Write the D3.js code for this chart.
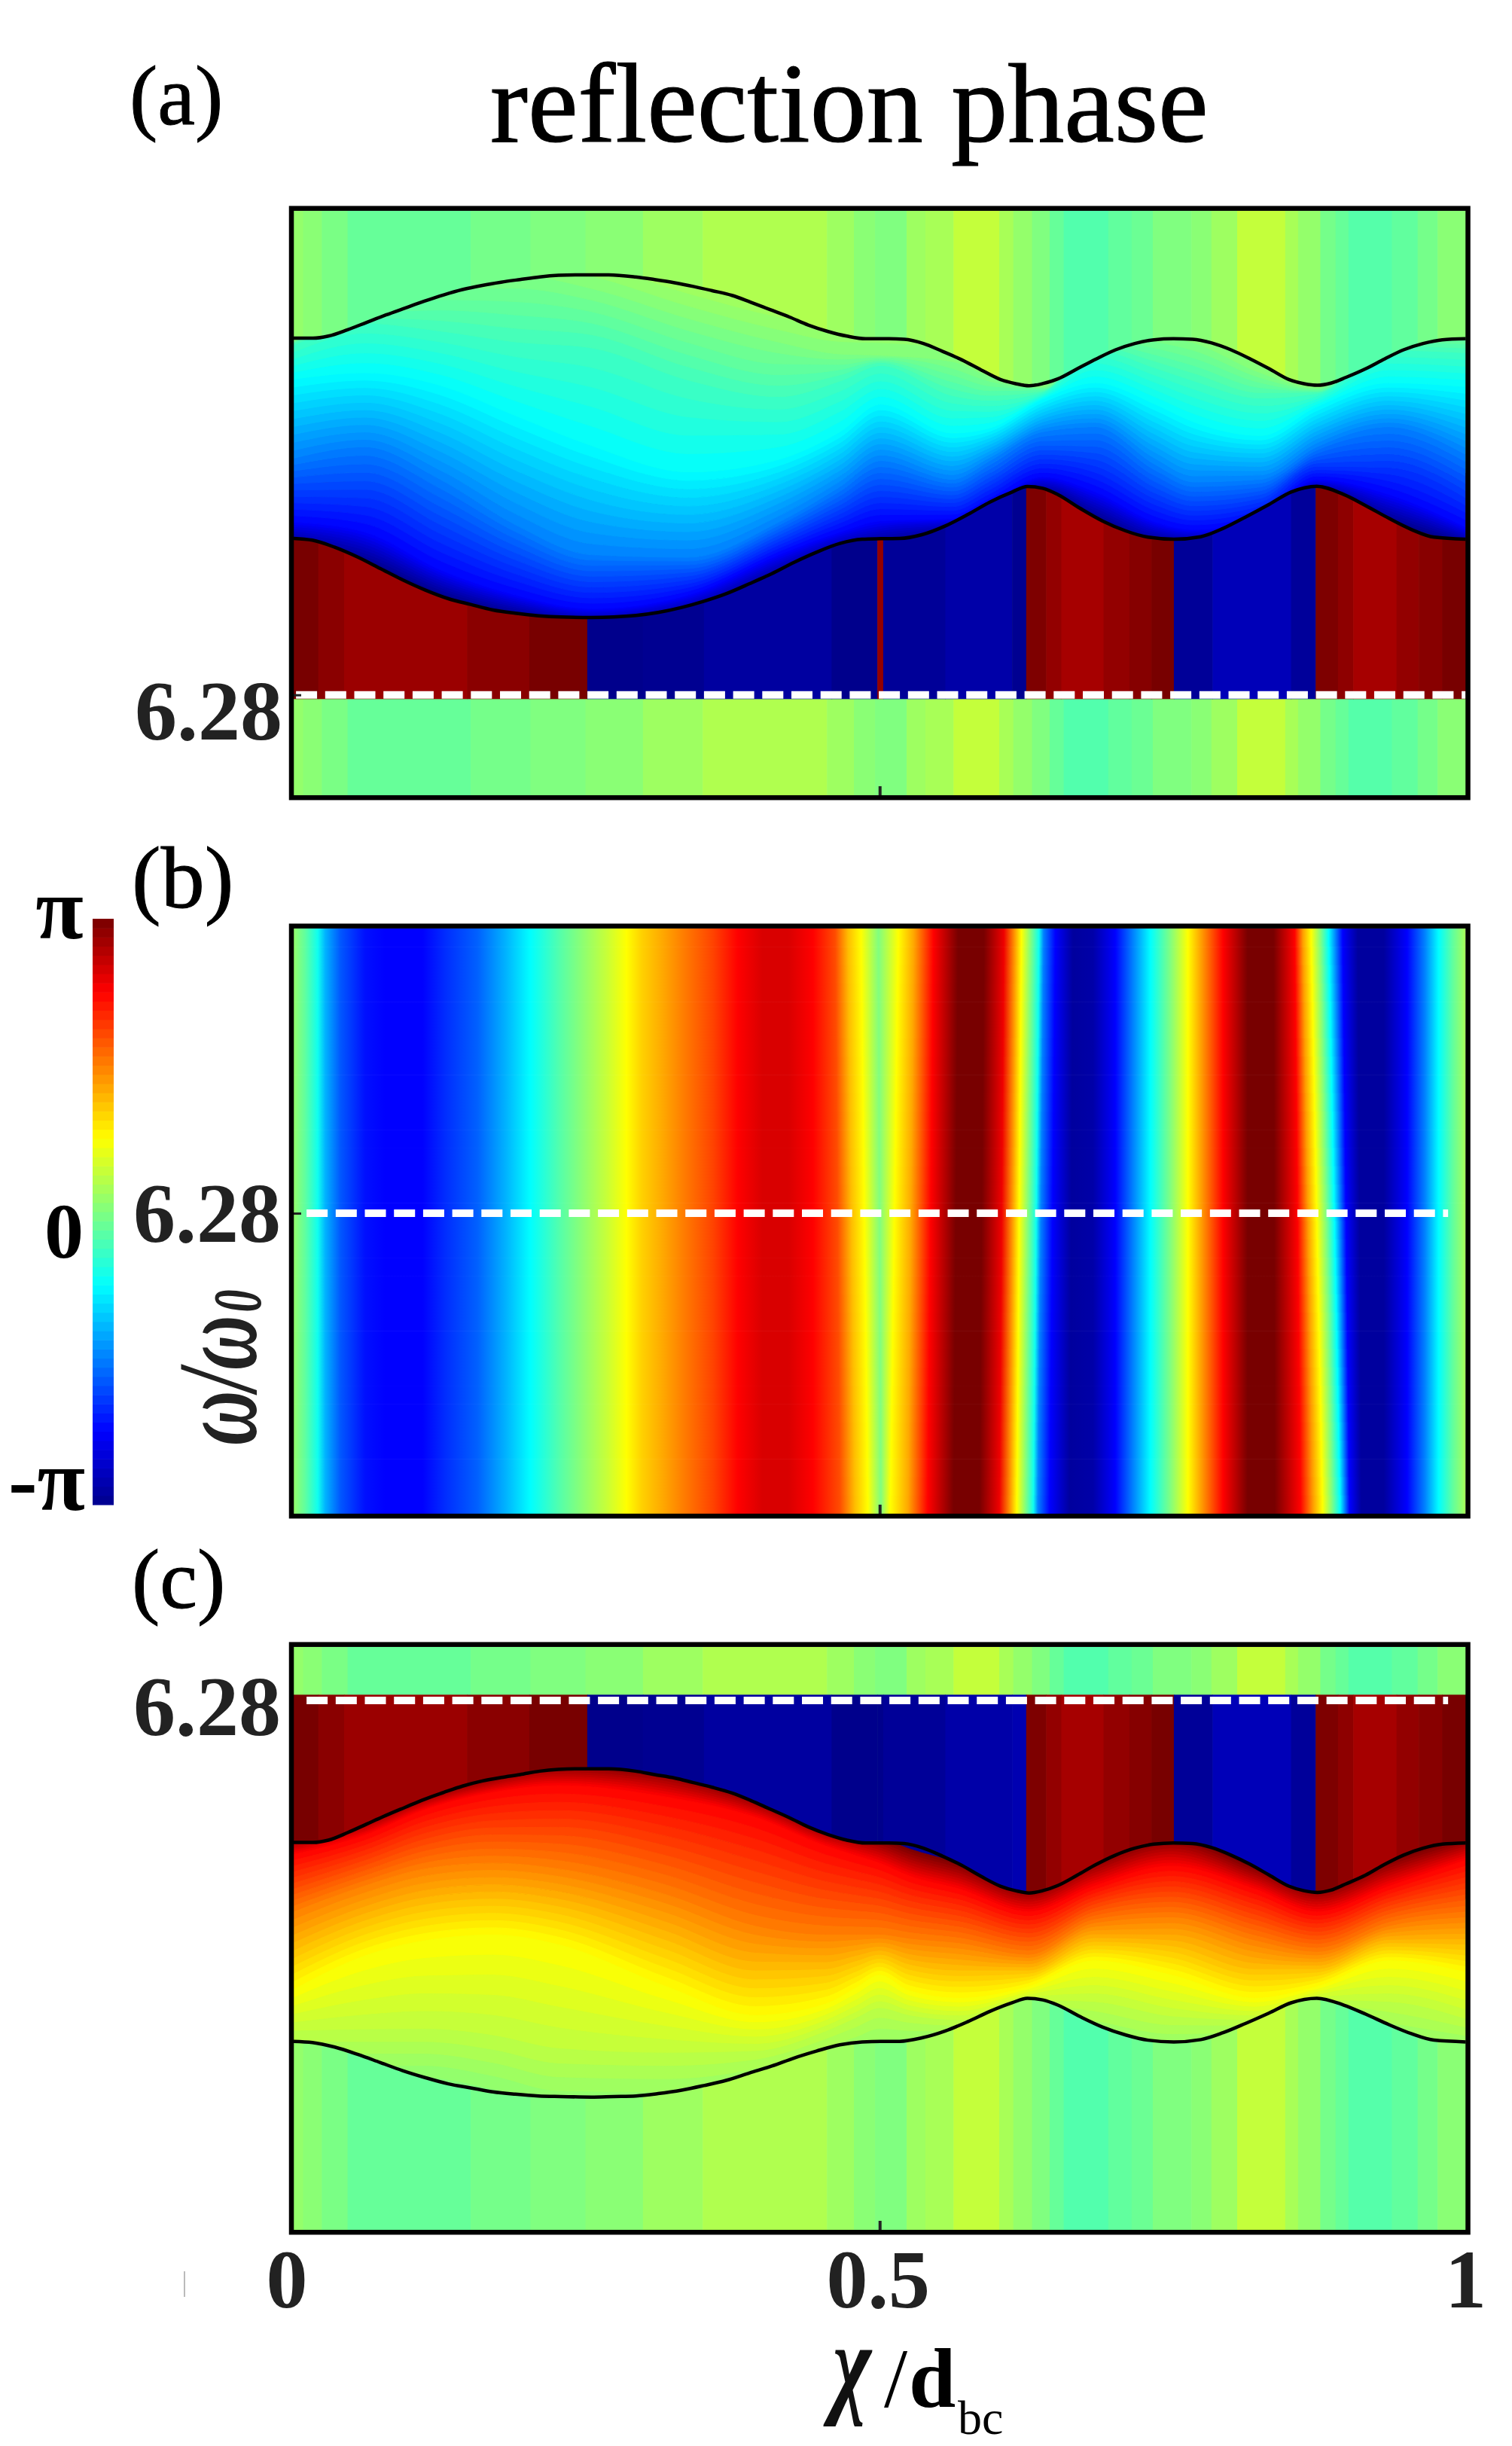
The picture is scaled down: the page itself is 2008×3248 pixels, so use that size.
<!DOCTYPE html>
<html><head><meta charset="utf-8">
<style>html,body{margin:0;padding:0;background:#fff}svg{display:block}
text{font-family:"Liberation Serif",serif;fill:#000}</style>
<script src="https://cdn.jsdelivr.net/npm/d3@7/dist/d3.min.js"></script>
</head><body><svg id="c" width="2008" height="3248"></svg>
<script>
// phase is stored as a colour-bar fraction: 0 = -pi, 0.5 = 0, 1 = pi
const jetStops=[0,.125,.375,.625,.875,1];
const jetColors=["#00008c","#0000ff","#00ffff","#ffff00","#ff0000","#780000"];
const xTicks=[0,0.5,1];
const xTickLabels=["0","0.5","1"];
const bandLabel="6.28";

// outer stripes
const bgEdges=[0,.008,.024,.046,.151,.202,.249,.298,.349,.455,.478,.496,.506,.523,.539,.563,.602,.614,.630,.645,.657,.695,.715,.733,.766,.783,.805,.846,.857,.876,.889,.900,.937,.959,.976,1];
const bgPhase=[.52,.51,.495,.475,.49,.50,.51,.53,.548,.53,.51,.50,.50,.53,.54,.567,.54,.52,.50,.475,.455,.47,.48,.50,.51,.53,.567,.54,.52,.49,.475,.458,.47,.49,.51];
// wrapped-phase stripes between band edge and the dashed line
const wrapEdges=[0,.021,.043,.148,.201,.2505,.298,.350,.459,.498,.503,.556,.613,.625,.642,.655,.691,.713,.732,.751,.784,.851,.872,.891,.904,.941,.960,.980,1];
const wrapPhaseA=[1,.983,.968,.983,1,0,.005,.022,0,.975,.013,.03,.005,.994,.975,.957,.975,.987,1,.013,.048,.015,.994,.98,.957,.975,.985,1];
const wrapPhaseC=[1,.983,.968,.983,1,0,.005,.022,0,0,.013,.03,.04,.994,.975,.957,.975,.987,1,.013,.048,.015,.994,.98,.957,.975,.985,1];

// band edges
const upperX=[0,.0165,.0296,.046,.0623,.0787,.095,.1115,.128,.144,.161,.177,.193,.21,.226,.2426,.2688,.2917,.308,.325,.341,.357,.374,.39,.4065,.423,.439,.4555,.472,.488,.5078,.5209,.5373,.5537,.5701,.5865,.6029,.616,.6275,.639,.652,.6685,.685,.7013,.7177,.734,.7505,.767,.7833,.7997,.816,.8325,.849,.862,.8735,.885,.898,.9145,.931,.947,.9637,.98,1];
const upperA=[675,675,679,691,705,719,732,745,757,767,775,781,786,791,794,795,795,791,786,780,773,765,756,743,729,715,700,688,679,674,674,673,665,650,634,615,597,589,585,589,598,617,636,653,665,672,674,673,666,653,636,617,597,589,586,590,601,617,636,653,665,672,674];
const upperC=[-247,-247,-243,-230,-215,-200,-186,-172,-160,-149,-140,-134,-129,-123,-120,-119,-119,-123,-129,-135,-143,-151,-161,-174,-189,-204,-220,-233,-243,-248,-248,-249,-257,-271,-287,-306,-323,-331,-335,-331,-322,-304,-285,-269,-257,-250,-248,-249,-256,-269,-285,-304,-323,-331,-334,-330,-319,-304,-285,-269,-257,-250,-248];
const lowerX=[0,.016,.035,.055,.074,.093,.112,.132,.151,.170,.189,.209,.228,.254,.273,.292,.311,.331,.350,.369,.389,.408,.427,.446,.466,.485,.501,.517,.536,.556,.575,.594,.613,.626,.639,.652,.671,.690,.710,.729,.751,.774,.793,.812,.832,.851,.873,.896,.915,.9345,.954,.973,1];
const lowerAY=[705,712,740,780,825,870,910,945,968,990,1003,1013,1018,1020,1018,1012,1000,980,955,925,885,845,800,760,725,708,706,705,690,655,610,560,520,498,505,530,585,635,675,700,708,698,665,620,570,520,497,530,575,625,670,700,708];
const lowerC=[-593,-595,-603,-616,-630,-644,-656,-667,-674,-681,-685,-688,-689,-690,-689,-688,-684,-678,-670,-661,-648,-636,-622,-610,-599,-594,-593,-593,-587,-575,-559,-541,-526,-518,-521,-530,-550,-568,-582,-591,-594,-590,-578,-562,-544,-526,-518,-530,-546,-564,-580,-591,-594];

// iso-phase lines inside the bands
const isoXA=[0,.061,.125,.189,.254,.337,.414,.466,.501,.562,.594,.639,.684,.735,.7675,.825,.873,.9345,1];
const isoPhaseA=[0,.125,.25,.375,.44,.5,.6];
const isoA=[
 [730,800,930,1010,1045,1000,855,755,732,665,575,525,625,720,725,625,520,635,730],
 [640,680,830,930,985,930,770,680,635,625,560,460,520,640,670,620,470,530,660],
 [385,340,470,650,770,780,640,500,395,470,395,280,260,410,480,470,340,260,370],
 [70,45,95,215,335,440,390,280,170,285,265,150,85,170,240,295,180,85,100],
 [-70,-160,-130,-90,-70,60,130,70,10,130,150,120,-50,20,70,140,125,-50,-40],
 [-85,-240,-330,-345,-291,-171,-77,-30,-25,0,60,100,-120,-105,-75,45,105,-120,-120],
 [-485,-640,-730,-745,-691,-571,-477,-430,-425,-400,-340,-300,-520,-505,-475,-355,-295,-520,-520]];
const isoXC=[0,.06,.112,.17,.226,.318,.394,.454,.48,.5,.525,.568,.627,.683,.749,.82,.873,.935,1];
const isoPhaseC=[.5,.56,.625,.75,.875,1];
const isoC=[
 [-678,-678,-678,-700,-728,-728,-688,-648,-638,-628,-618,-608,-568,-608,-628,-608,-568,-618,-628],
 [-578,-578,-578,-590,-613,-618,-613,-578,-555,-538,-550,-558,-523,-528,-553,-558,-523,-528,-558],
 [-503,-445,-418,-408,-425,-498,-548,-528,-500,-478,-505,-518,-498,-453,-478,-518,-498,-453,-473],
 [-368,-323,-293,-283,-293,-338,-393,-408,-408,-408,-415,-423,-443,-388,-378,-418,-438,-393,-378],
 [-268,-235,-190,-160,-148,-168,-203,-253,-270,-283,-305,-328,-368,-323,-288,-328,-368,-323,-278],
 [-233,-205,-163,-130,-110,-123,-168,-218,-228,-238,-258,-283,-325,-278,-238,-288,-325,-278,-238]];

// panel (b): phase profile, with stop positions at top and bottom of the panel
const phaseB=[.52,.47,.39,.30,.21,.14,.125,.125,.17,.22,.30,.375,.46,.52,.57,.625,.67,.71,.76,.81,.875,.91,.91,.875,.80,.69,.625,.50,.625,.71,.875,1,1,.89,.73,.625,.39,.25,.125,.02,.03,.125,.25,.375,.50,.625,.75,.875,1,1,.875,.72,.625,.50,.375,.125,.02,.02,.125,.25,.375,.47,.54];
const xTopB=[0,.0096,.0206,.027,.040,.061,.078,.110,.130,.157,.181,.202,.228,.249,.267,.284,.297,.315,.336,.358,.379,.400,.422,.443,.462,.473,.484,.499,.516,.529,.546,.567,.589,.606,.615,.621,.636,.640,.650,.665,.682,.701,.716,.731,.748,.763,.778,.793,.814,.836,.854,.861,.868,.876,.883,.895,.908,.930,.950,.965,.977,.989,1];
const xBottomB=[0,.0096,.0206,.027,.040,.061,.078,.110,.130,.157,.181,.202,.228,.249,.267,.284,.297,.315,.336,.358,.379,.400,.422,.443,.466,.479,.490,.501,.509,.524,.541,.563,.585,.602,.611,.617,.631,.635,.645,.662,.682,.701,.716,.731,.748,.763,.778,.793,.814,.837,.859,.870,.878,.886,.893,.901,.911,.930,.950,.965,.977,.989,1];

const svg=d3.select("#c"), defs=svg.append("defs");
const jet=d3.scaleLinear().domain(jetStops).range(jetColors).clamp(true);
const X0=390,X1=1946.5;
const x=d3.scaleLinear().domain([0,1]).range([X0,X1]);
const yA=d3.scaleLinear().domain([-190,916]).range([1056,280]);
const yB=d3.scaleLinear().domain([-399,378]).range([2010,1233]);
const yC=d3.scaleLinear().domain([-921,93]).range([2961,2187]);
// panel (a) readings taken in an inverted unit of 1/3 px below y=480
const yRead=d3.scaleLinear().domain([0,1000]).range([480,480+1000/3]);

function stripes(g,edges,phase,y,top,bottom){
  g.selectAll(null).data(phase).join("rect")
   .attr("x",(d,i)=>x(edges[i])).attr("width",(d,i)=>x(edges[i+1])-x(edges[i])+.6)
   .attr("y",y(top)).attr("height",y(bottom)-y(top)).attr("fill",d=>jet(d));
}
function band(id,y,yLow,yIso,upper,lower,isoX,isoPhase,iso,step,wrapPhase,wrapTop,wrapBottom,dir){
  const g=svg.append("g");
  stripes(g,bgEdges,bgPhase,y,y.domain()[1],y.domain()[0]);
  stripes(g,wrapEdges,wrapPhase,y,wrapTop,wrapBottom);
  const up=d3.line().x(d=>x(d[0])).y(d=>y(d[1])).curve(d3.curveMonotoneX);
  const lo=d3.line().x(d=>x(d[0])).y(d=>yLow(d[1])).curve(d3.curveMonotoneX);
  const upPts=upperX.map((v,i)=>[v,upper[i]]), loPts=lowerX.map((v,i)=>[v,lower[i]]);
  const loRev=lo(loPts.slice().reverse());
  defs.append("clipPath").attr("id",id).append("path")
    .attr("d",up(upPts)+"L"+loRev.slice(1)+"Z");
  const area=d3.area().x(d=>x(d.x)).y0(d=>yIso(d.a)).y1(d=>yIso(d.b)).curve(d3.curveMonotoneX);
  const lv=d3.range(isoPhase[0],isoPhase[isoPhase.length-1]-1e-6,step);
  const at=isoX.map((_,c)=>d3.scaleLinear().domain(isoPhase).range(iso.map(r=>r[c])));
  const b=g.append("g").attr("clip-path",`url(#${id})`);
  b.selectAll("path").data(dir>0?lv:lv.slice().reverse()).join("path")
   .attr("d",v=>area(isoX.map((q,c)=>({x:q,a:at[c](v),b:at[c](v+step)}))))
   .attr("fill",v=>jet(v+step/2)).attr("stroke",v=>jet(v+step/2)).attr("stroke-width",1);
  g.append("path").attr("d",up(upPts)).attr("fill","none").attr("stroke","#000").attr("stroke-width",4.5);
  g.append("path").attr("d",lo(loPts)).attr("fill","none").attr("stroke","#000").attr("stroke-width",4.5);
}
band("clipA",yA,yRead,yRead,upperA,lowerAY,isoXA,isoPhaseA,isoA,.0125,wrapPhaseA,420,-8,1);
band("clipC",yC,yC,yC,upperC,lowerC,isoXC,isoPhaseC,isoC,.0125,wrapPhaseC,10,-345,-1);

// panel (b)
const rows=d3.range(32);
const rowH=(yB.range()[0]-yB.range()[1])/rows.length;
rows.forEach(r=>{
  const t=(r+.5)/rows.length;
  const gr=defs.append("linearGradient").attr("id","rb"+r).attr("gradientUnits","userSpaceOnUse")
    .attr("x1",X0).attr("x2",X1).attr("y1",0).attr("y2",0);
  phaseB.forEach((p,i)=>gr.append("stop").attr("offset",xTopB[i]+(xBottomB[i]-xTopB[i])*t).attr("stop-color",jet(p)));
});
svg.append("g").selectAll("rect").data(rows).join("rect")
  .attr("x",X0).attr("width",X1-X0).attr("y",r=>yB.range()[1]+r*rowH).attr("height",rowH+.6)
  .attr("fill",r=>`url(#rb${r})`);

// dashed lines, frames, axes
const dashes=[[yA,[.002,1]],[yB,[.011,.985]],[yC,[.011,.985]]];
dashes.forEach(([y,e])=>svg.append("line").attr("x1",x(e[0])).attr("x2",x(e[1])).attr("y1",y(0)).attr("y2",y(0))
  .attr("stroke","#fff").attr("stroke-width",10).attr("stroke-dasharray","28 10.7"));
const scales=[yA,yB,yC];
scales.forEach((y,i)=>{
  const ax=svg.append("g").attr("transform",`translate(0,${y.range()[0]})`)
    .call(d3.axisBottom(x).tickValues([xTicks[1]]).tickSizeInner(-12).tickSizeOuter(0).tickFormat(""));
  ax.select(".domain").remove(); ax.selectAll("line").attr("stroke","#222").attr("stroke-width",4);
  if(i<2){
    const ay=svg.append("g").attr("transform",`translate(${X0},0)`)
      .call(d3.axisLeft(y).tickValues([0]).tickSizeInner(-10).tickSizeOuter(0).tickFormat(""));
    ay.select(".domain").remove(); ay.selectAll("line").attr("stroke","#222").attr("stroke-width",3);
  }
  svg.append("rect").attr("x",387).attr("width",1562.5)
    .attr("y",y.range()[1]-3.3).attr("height",y.range()[0]-y.range()[1]+6.5)
    .attr("fill","none").attr("stroke","#000").attr("stroke-width",6.5);
});

// colour bar
const cb=d3.scaleLinear().domain([0,1]).range([1998,1220]);
const cbLevels=d3.range(64);
svg.append("g").selectAll("rect").data(cbLevels).join("rect")
  .attr("x",123).attr("width",28).attr("y",k=>cb((k+1)/64)).attr("height",k=>cb(k/64)-cb((k+1)/64)+.6)
  .attr("fill",k=>jet((k+.5)/64));

// text
function T(s,px,py,size,opt={}){
  return svg.append("text").text(s).attr("x",px).attr("y",py).attr("font-size",size)
    .attr("font-weight",opt.w||"normal").attr("font-style",opt.i||"normal")
    .attr("text-anchor",opt.a||"start").style("fill",opt.c||"#000");
}
T("reflection phase",651,188,150).style("stroke","#000").style("stroke-width",1.2);
T("(a)",172,165,112).style("stroke","#000").style("stroke-width",1);
T("(b)",175,1205,116).style("stroke","#000").style("stroke-width",1);
T("(c)",175,2135,112).style("stroke","#000").style("stroke-width",1);
T(bandLabel,375,982,112,{w:"bold",a:"end",c:"#222"});
T(bandLabel,373,1649,112,{w:"bold",a:"end",c:"#222"});
T(bandLabel,373,2304,112,{w:"bold",a:"end",c:"#222"});
T("π",79,1246,116,{w:"bold",a:"middle"});
T("0",85,1670,104,{w:"bold",a:"middle"});
T("-π",62,2005,116,{w:"bold",a:"middle"});
xTickLabels.forEach((s,i)=>{
  const off=[-9,-2,0][i];
  T(s,x(xTicks[i])+off,3064,110,{w:"bold",a:"middle",c:"#222"});
});
// x label
svg.append("text").text("χ").attr("transform","translate(1106,3190) scale(1.05,1.45)")
  .attr("font-size",104).attr("font-weight","bold").attr("font-style","italic").style("fill","#111");
T("/",1174,3196,112,{});
T("d",1207,3196,112,{w:"bold"});
T("bc",1272,3232,64,{});
// y label
const yl=svg.append("g").attr("transform","translate(340,1919) rotate(-90) scale(1,1.5)");
const ylMain=yl.append("text").text("ω/ω").attr("font-size",100).attr("font-weight","bold").attr("font-style","italic").style("fill","#222");
yl.append("text").text("0").attr("x",ylMain.node().getComputedTextLength()+4).attr("y",4).attr("font-size",60).attr("font-weight","bold").attr("font-style","italic").style("fill","#222");
// stray mark at the left of the axis labels
svg.append("line").attr("x1",245).attr("x2",245).attr("y1",3016).attr("y2",3050).attr("stroke","#bbb").attr("stroke-width",2);
</script></body></html>
